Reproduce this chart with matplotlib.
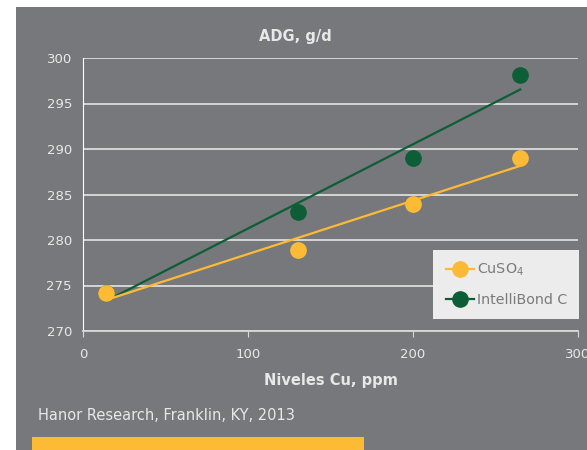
import numpy as np
import matplotlib.pyplot as plt
from matplotlib.patches import Rectangle

# ADG vs Cu level, Hanor Research 2013
cu_ppm = [14, 130, 200, 265]
adg_cuso4 = [274.2, 278.9, 284.0, 289.0]
adg_intellibond = [274.2, 283.1, 289.0, 298.1]
series_names = ['CuSO$_4$', 'IntelliBond C']
yticks = [270, 275, 280, 285, 290, 295, 300]
xticks = [0, 100, 200, 300]

bg = '#77787b'
yellow = '#fdbb35'
green = '#0d5e37'
light = '#e8e8e8'

plt.rcParams['font.family'] = ['DejaVu Sans']

fig = plt.figure(figsize=(5.87, 4.5), dpi=100)
fig.patch.set_facecolor('white')
fig.patches.append(Rectangle((16 / 587, 0), 1, 1 - 7 / 450, transform=fig.transFigure,
                             facecolor=bg, edgecolor='none', zorder=-10))
fig.patches.append(Rectangle((32 / 587, 0), (364 - 32) / 587, 13 / 450, transform=fig.transFigure,
                             facecolor=yellow, edgecolor='none', zorder=-5))

ax = fig.add_axes([83 / 587, 1 - 331 / 450, (578 - 83) / 587, (331 - 58) / 450])
ax.set_facecolor(bg)

# green first so the yellow markers sit on top
for name, ys, col, z in [(series_names[1], adg_intellibond, green, 3),
                         (series_names[0], adg_cuso4, yellow, 5)]:
    k, b = np.polyfit(cu_ppm, ys, 1)
    xs = np.array([cu_ppm[0], cu_ppm[-1]])
    ax.plot(xs, k * xs + b, color=col, lw=1.6, zorder=z)
    ax.plot(cu_ppm, ys, 'o', color=col, ms=11, zorder=z + 1)

h_cu, = ax.plot([], [], '-o', color=yellow, ms=11, lw=1.6)
h_ib, = ax.plot([], [], '-o', color=green, ms=11, lw=1.6)

ax.set_xlim(0, 300)
ax.set_ylim(270, 300)
ax.set_yticks(yticks)
ax.set_xticks(xticks)
ax.yaxis.grid(True, color='#dcdcdc', lw=1.3)
ax.set_axisbelow(True)
for s in ['top', 'right']:
    ax.spines[s].set_visible(False)
ax.spines['left'].set_color('white')
ax.spines['bottom'].set_color('#d8d8d8')
ax.spines['bottom'].set_linewidth(1.3)
ax.tick_params(axis='y', length=0, pad=8, colors=light, labelsize=9.5)
ax.tick_params(axis='x', length=4, color='#d8d8d8', colors=light, labelsize=9.5, pad=8)

fig.text(295 / 587, 1 - 37 / 450, 'ADG, g/d', color=light, fontsize=10.5,
         fontweight='bold', ha='center', va='center')
ax.set_xlabel('Niveles Cu, ppm', color=light, fontsize=10.5, fontweight='bold', labelpad=9)

leg = ax.legend([h_cu, h_ib], series_names, loc='lower right', bbox_to_anchor=(1.003, 0.045),
                frameon=True, fancybox=False, facecolor='#ebeceb', edgecolor='none',
                framealpha=1, fontsize=10.3, handlelength=2.0, borderpad=0.85,
                labelspacing=1.0, handletextpad=0.2, borderaxespad=0)
for t in leg.get_texts():
    t.set_color('#7a7a7a')

fig.text(38 / 587, 1 - 416 / 450, 'Hanor Research, Franklin, KY, 2013', color=light,
         fontsize=10.5, va='center', ha='left')

fig.savefig('out.png', dpi=100, facecolor=fig.get_facecolor())
